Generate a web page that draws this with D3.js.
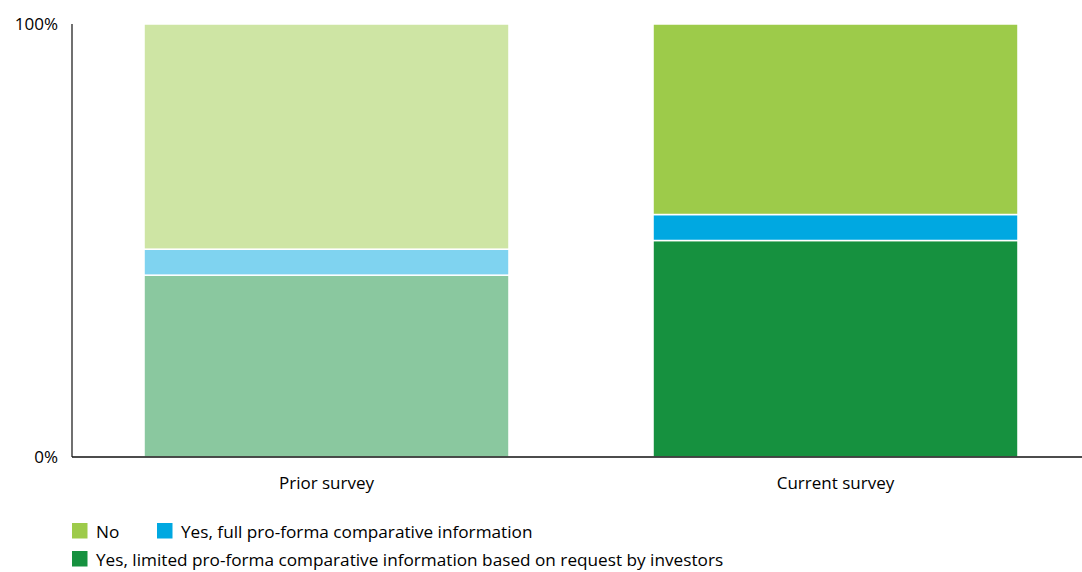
<!DOCTYPE html>
<html><head><meta charset="utf-8">
<script src="https://cdn.jsdelivr.net/npm/d3@7"></script>
<style>
body{margin:0;background:#fff;}
text{font-family:"Open Sans",sans-serif;fill:#000;}
</style></head>
<body><svg id="c" width="1082" height="572"></svg>
<script>
const categories = ["Prior survey", "Current survey"];
const seriesNames = ["Yes, limited pro-forma comparative information based on request by investors", "Yes, full pro-forma comparative information", "No"];
const limitedValues = [42, 50];
const fullValues = [6, 6];
const noValues = [52, 44];
const yTickLabels = ["0%", "100%"];
const colors = ["#16913f", "#00a8e1", "#9dcb4a"];
const catOpacity = [0.5, 1];

const svg = d3.select("#c");
const x = d3.scaleBand().domain(categories).range([72, 1090]).paddingInner(0.283).paddingOuter(0.1415);
const y = d3.scaleLinear().domain([0, 100]).range([457, 24]);

const rows = categories.map((c, i) => ({cat: c, s0: limitedValues[i], s1: fullValues[i], s2: noValues[i]}));
const stack = d3.stack().keys(["s0", "s1", "s2"])(rows);

stack.forEach((layer, li) => {
  svg.append("g").selectAll("rect").data(layer).join("rect")
    .attr("x", d => x(d.data.cat))
    .attr("width", x.bandwidth())
    .attr("y", d => y(d[1]))
    .attr("height", d => y(d[0]) - y(d[1]))
    .attr("fill", colors[li])
    .attr("fill-opacity", (d, i) => catOpacity[i])
    .attr("stroke", "#fff").attr("stroke-width", 1.5);
});

// axes lines
svg.append("line").attr("x1", 72).attr("x2", 72).attr("y1", y(100)).attr("y2", y(0)).attr("stroke", "#111").attr("stroke-width", 1.2);
svg.append("line").attr("x1", 72).attr("x2", 1082).attr("y1", y(0)).attr("y2", y(0)).attr("stroke", "#111").attr("stroke-width", 1.5);

// y tick labels
[0, 100].forEach((v, i) => {
  svg.append("text").attr("x", 58).attr("y", y(v) + 6).attr("text-anchor", "end")
    .attr("font-size", 17).text(yTickLabels[i]);
});

// x labels
categories.forEach(c => {
  svg.append("text").attr("x", x(c) + x.bandwidth() / 2).attr("y", 489).attr("text-anchor", "middle")
    .attr("font-size", 17).text(c);
});

// legend
const legend = [
  {name: seriesNames[2], color: colors[2], x: 72, y: 523},
  {name: seriesNames[1], color: colors[1], x: 157, y: 523},
  {name: seriesNames[0], color: colors[0], x: 72, y: 551}
];
legend.forEach(l => {
  svg.append("rect").attr("x", l.x).attr("y", l.y).attr("width", 15.5).attr("height", 15.5).attr("fill", l.color);
  svg.append("text").attr("x", l.x + 24).attr("y", l.y + 15).attr("font-size", 17.2).text(l.name);
});
</script></body></html>
